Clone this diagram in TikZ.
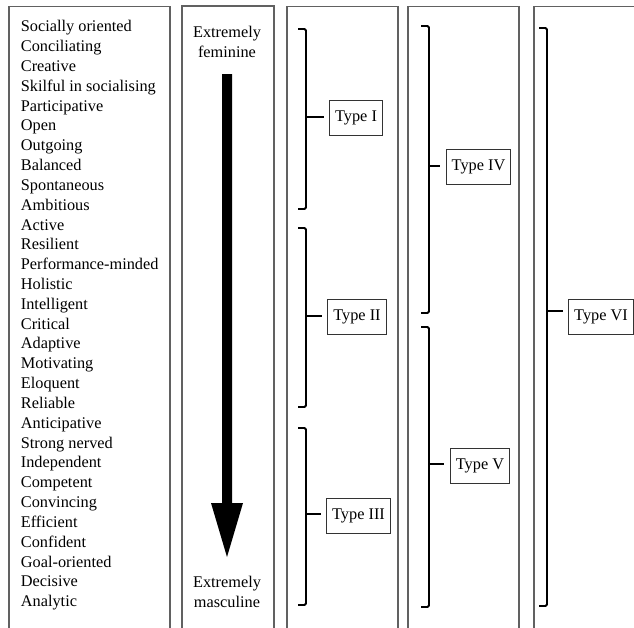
\documentclass[tikz,border=0pt]{standalone}
\usepackage{fontspec}
\setmainfont{Liberation Serif}
\newcommand\dfont{\fontsize{16.3pt}{19.8pt}\selectfont}
\begin{document}
\begin{tikzpicture}[x=1pt,y=-1pt,
  colbox/.style={draw=black!62, line width=1.3pt},
  brk/.style={draw=black, line width=1.9pt, rounded corners=1.5pt},
  tick/.style={draw=black, line width=1.9pt, shorten >=5.5pt},
  typebox/.style={draw=black!80, line width=0.9pt, inner xsep=5.5pt, inner ysep=0pt, minimum height=35pt, font=\dfont},
  item/.style={anchor=base west, inner sep=0pt, font=\dfont},
  pole/.style={anchor=base, inner sep=0pt, font=\dfont}]
\useasboundingbox (0,0) rectangle (634,627);
\clip (0,0) rectangle (634,627);
\fill[white] (0,0) rectangle (634,627);
% column frames
\draw[colbox] (9,6.5) rectangle (170,640);
\draw[colbox] (182,6) rectangle (274,640);
\draw[colbox] (287,6.5) rectangle (398,640);
\draw[colbox] (408,6.5) rectangle (519,640);
\draw[colbox] (534,6.5) rectangle (650,640);
% attribute list
\foreach \t [count=\i from 0] in {Socially oriented, Conciliating, Creative, Skilful in socialising, Participative, Open, Outgoing, Balanced, Spontaneous, Ambitious, Active, Resilient, Performance-minded, Holistic, Intelligent, Critical, Adaptive, Motivating, Eloquent, Reliable, Anticipative, Strong nerved, Independent, Competent, Convincing, Efficient, Confident, Goal-oriented, Decisive, Analytic}
  \node[item] (w\i) at (20.7, 31.7+19.83*\i) {\t};
% poles
\node[pole] (fem1) at (227,37) {Extremely};
\node[pole] (fem2) at (227,57) {feminine};
\node[pole] (mas1) at (227,587.5) {Extremely};
\node[pole] (mas2) at (227,607) {masculine};
% big arrow
\fill[black] (222,74) -- (232,74) -- (232,503) -- (243,503) -- (227,557) -- (211,503) -- (222,503) -- cycle;
% type boxes
\node[typebox] (tI)   at (356,117.5) {Type I};
\node[typebox] (tII)  at (357,316.5) {Type II};
\node[typebox] (tIII) at (358.5,515.5) {Type III};
\node[typebox] (tIV)  at (478.5,166.5) {Type IV};
\node[typebox] (tV)   at (480,466) {Type V};
\node[typebox] (tVI)  at (601,316.5) {Type VI};
% brackets
\draw[brk] (298,29) -- (306,29) -- (306,209) -- (298,209);
\draw[brk] (298,228) -- (306,228) -- (306,407) -- (298,407);
\draw[brk] (298,428) -- (306,428) -- (306,605) -- (298,605);
\draw[brk] (421,26) -- (429,26) -- (429,313) -- (421,313);
\draw[brk] (421,327) -- (429,327) -- (429,607) -- (421,607);
\draw[brk] (539,28) -- (547,28) -- (547,606) -- (539,606);
% bracket midpoints and ticks
\coordinate (mI) at (306,117);
\coordinate (mII) at (306,316);
\coordinate (mIII) at (306,514);
\coordinate (mIV) at (429,166);
\coordinate (mV) at (429,464);
\coordinate (mVI) at (547,311);
\draw[tick] (mI) -- (mI -| tI.west);
\draw[tick] (mII) -- (mII -| tII.west);
\draw[tick] (mIII) -- (mIII -| tIII.west);
\draw[tick] (mIV) -- (mIV -| tIV.west);
\draw[tick] (mV) -- (mV -| tV.west);
\draw[tick] (mVI) -- (mVI -| tVI.west);
\end{tikzpicture}
\end{document}
